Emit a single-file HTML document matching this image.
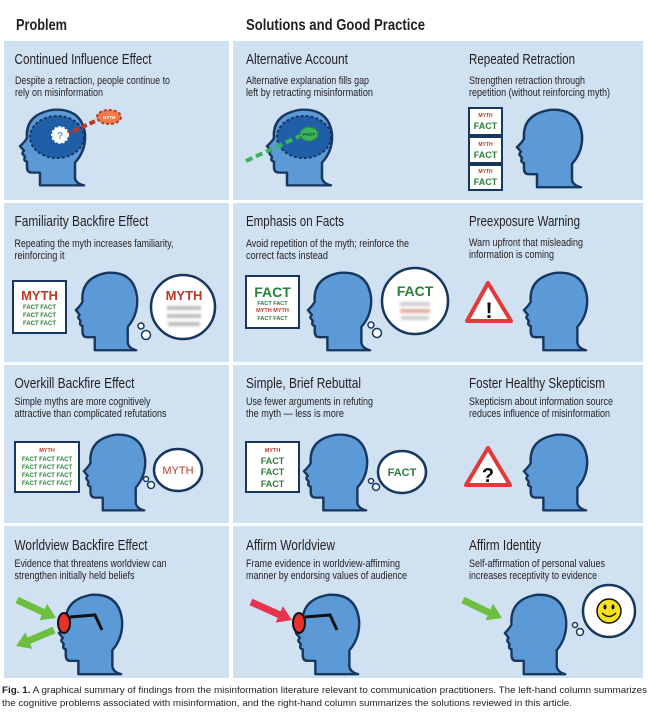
<!DOCTYPE html>
<html><head><meta charset="utf-8"><style>
html,body{margin:0;padding:0;background:#fff;}
svg{display:block;}
text{font-family:"Liberation Sans Narrow","Liberation Sans",sans-serif;}
.t{font-size:14.5px;fill:#231f20;}
.d{font-size:10.8px;fill:#231f20;}
.h{font-size:15.5px;font-weight:bold;fill:#231f20;}
.c{font-family:"Liberation Sans",sans-serif;font-size:9.3px;fill:#231f20;}
.m{fill:#b83a26;font-weight:bold;}
.f{fill:#2d7d3b;font-weight:bold;}
</style></head><body>
<svg width="648" height="722" viewBox="0 0 648 722" xmlns="http://www.w3.org/2000/svg">
<defs>
<symbol id="hd" viewBox="-2 -2 70 90" preserveAspectRatio="none">
<path d="M20 84 L20 70 L12 70 Q7 70 7 64 L7 58 Q3 57 5 53 L4 51 Q1 49 4 46 L0 41 Q5 36 7 32 Q5 6 33 1 Q62 -1 65 28 Q66 46 55 59 L55 76 Q56 82 64 84 Z" fill="#5b9ad6" stroke="#17375e" stroke-width="2.5" stroke-linejoin="round"/>
</symbol>
<filter id="bl"><feGaussianBlur stdDeviation="1.3"/></filter>
</defs>

<text class="h" x="16" y="30" textLength="51" lengthAdjust="spacingAndGlyphs">Problem</text>
<text class="h" x="246" y="30" textLength="179" lengthAdjust="spacingAndGlyphs">Solutions and Good Practice</text>

<g fill="#d0e1f2">
<rect x="4" y="41" width="225" height="159"/><rect x="233" y="41" width="410" height="159"/>
<rect x="4" y="203" width="225" height="159"/><rect x="233" y="203" width="410" height="159"/>
<rect x="4" y="365" width="225" height="158"/><rect x="233" y="365" width="410" height="158"/>
<rect x="4" y="526" width="225" height="152"/><rect x="233" y="526" width="410" height="152"/>
</g>

<!-- Row 1 text -->
<text class="t" x="14.5" y="64" textLength="137" lengthAdjust="spacingAndGlyphs">Continued Influence Effect</text>
<text class="d" x="15" y="84" textLength="155" lengthAdjust="spacingAndGlyphs">Despite a retraction, people continue to</text>
<text class="d" x="15" y="96" textLength="88" lengthAdjust="spacingAndGlyphs">rely on misinformation</text>
<text class="t" x="246" y="64" textLength="102" lengthAdjust="spacingAndGlyphs">Alternative Account</text>
<text class="d" x="246" y="84" textLength="123" lengthAdjust="spacingAndGlyphs">Alternative explanation fills gap</text>
<text class="d" x="246" y="96" textLength="127" lengthAdjust="spacingAndGlyphs">left by retracting misinformation</text>
<text class="t" x="469" y="64" textLength="106" lengthAdjust="spacingAndGlyphs">Repeated Retraction</text>
<text class="d" x="469" y="84" textLength="116" lengthAdjust="spacingAndGlyphs">Strengthen retraction through</text>
<text class="d" x="469" y="96" textLength="141" lengthAdjust="spacingAndGlyphs">repetition (without reinforcing myth)</text>

<use href="#hd" x="18" y="107" width="70" height="82"/>
<ellipse cx="57" cy="137" rx="27" ry="21" fill="#1f5fa8" stroke="#17375e" stroke-width="2" stroke-dasharray="3 2"/>
<line x1="65" y1="135" x2="102" y2="118" stroke="#b83a26" stroke-width="4" stroke-dasharray="6 3"/>
<ellipse cx="109" cy="117" rx="12" ry="7" fill="#f07a4a" stroke="#b83a26" stroke-width="2" stroke-dasharray="3 2"/>
<text x="109" y="119" font-size="4.5" text-anchor="middle" fill="#fff" font-weight="bold">MYTH</text>
<circle cx="60" cy="135" r="8" fill="#fff" stroke="#fff" stroke-width="2" stroke-dasharray="2 2"/>
<text x="60" y="139" font-size="10" text-anchor="middle" fill="#5b9ad6" font-weight="bold">?</text>

<use href="#hd" x="265" y="107" width="70" height="82"/>
<ellipse cx="304" cy="137" rx="27" ry="21" fill="#1f5fa8" stroke="#17375e" stroke-width="2" stroke-dasharray="3 2"/>
<line x1="246" y1="161" x2="302" y2="135" stroke="#3cb35a" stroke-width="4" stroke-dasharray="7 4"/>
<ellipse cx="309" cy="134" rx="9" ry="7" fill="#3cb35a" stroke="#2d7d3b" stroke-width="1.5" stroke-dasharray="2 1.5"/>
<text x="309" y="136" font-size="4.5" text-anchor="middle" fill="#17375e" font-weight="bold">FACT</text>

<g fill="#fff" stroke="#17375e" stroke-width="2">
<rect x="469" y="108" width="33" height="27"/><rect x="469" y="137" width="33" height="26"/><rect x="469" y="165" width="33" height="25"/>
</g>
<g text-anchor="middle">
<text class="m" x="485.5" y="117" font-size="5">MYTH</text><text class="f" x="485.5" y="129" font-size="9">FACT</text>
<text class="m" x="485.5" y="146" font-size="5">MYTH</text><text class="f" x="485.5" y="158" font-size="9">FACT</text>
<text class="m" x="485.5" y="173" font-size="5">MYTH</text><text class="f" x="485.5" y="185" font-size="9">FACT</text>
</g>
<use href="#hd" x="515" y="107" width="70" height="84"/>

<!-- Row 2 -->
<text class="t" x="14.5" y="226" textLength="134" lengthAdjust="spacingAndGlyphs">Familiarity Backfire Effect</text>
<text class="d" x="14.5" y="247" textLength="159" lengthAdjust="spacingAndGlyphs">Repeating the myth increases familiarity,</text>
<text class="d" x="14.5" y="259" textLength="50" lengthAdjust="spacingAndGlyphs">reinforcing it</text>
<text class="t" x="246" y="226" textLength="98" lengthAdjust="spacingAndGlyphs">Emphasis on Facts</text>
<text class="d" x="246" y="247" textLength="163" lengthAdjust="spacingAndGlyphs">Avoid repetition of the myth; reinforce the</text>
<text class="d" x="246" y="259" textLength="82" lengthAdjust="spacingAndGlyphs">correct facts instead</text>
<text class="t" x="469" y="226" textLength="111" lengthAdjust="spacingAndGlyphs">Preexposure Warning</text>
<text class="d" x="469" y="246" textLength="114" lengthAdjust="spacingAndGlyphs">Warn upfront that misleading</text>
<text class="d" x="469" y="258" textLength="85" lengthAdjust="spacingAndGlyphs">information is coming</text>

<rect x="13" y="281" width="53" height="52" fill="#fff" stroke="#17375e" stroke-width="2"/>
<g text-anchor="middle">
<text class="m" x="39.5" y="300" font-size="13">MYTH</text>
<text class="f" x="39.5" y="309" font-size="6">FACT FACT</text>
<text class="f" x="39.5" y="317" font-size="6">FACT FACT</text>
<text class="f" x="39.5" y="325" font-size="6">FACT FACT</text>
</g>
<use href="#hd" x="74" y="270" width="66" height="84"/>
<circle cx="141" cy="326" r="3" fill="#fff" stroke="#17375e" stroke-width="1.5"/>
<circle cx="146" cy="335" r="4.5" fill="#fff" stroke="#17375e" stroke-width="1.5"/>
<circle cx="183" cy="307" r="32" fill="#fff" stroke="#17375e" stroke-width="2.5"/>
<text class="m" x="184" y="300" font-size="13" text-anchor="middle">MYTH</text>
<g filter="url(#bl)" fill="#bbb"><rect x="167" y="306" width="34" height="4"/><rect x="167" y="314" width="34" height="4"/><rect x="168" y="322" width="32" height="4"/></g>

<rect x="246" y="276" width="53" height="52" fill="#fff" stroke="#17375e" stroke-width="2"/>
<g text-anchor="middle">
<text class="f" x="272.5" y="297" font-size="14">FACT</text>
<text class="f" x="272.5" y="305" font-size="5.5">FACT FACT</text>
<text class="m" x="272.5" y="312" font-size="5.5">MYTH MYTH</text>
<text class="f" x="272.5" y="320" font-size="5.5">FACT FACT</text>
</g>
<use href="#hd" x="306" y="270" width="68" height="84"/>
<circle cx="371" cy="325" r="3" fill="#fff" stroke="#17375e" stroke-width="1.5"/>
<circle cx="377" cy="333" r="4.5" fill="#fff" stroke="#17375e" stroke-width="1.5"/>
<circle cx="415" cy="301" r="33" fill="#fff" stroke="#17375e" stroke-width="2.5"/>
<text class="f" x="415" y="296" font-size="14" text-anchor="middle">FACT</text>
<g filter="url(#bl)"><rect x="400" y="302" width="30" height="4" fill="#ccc"/><rect x="400" y="309" width="30" height="4" fill="#e0a8a0"/><rect x="401" y="316" width="28" height="4" fill="#ccc"/></g>

<polygon points="488,283 467,321 511,321" fill="#fff" stroke="#e03a3a" stroke-width="4" stroke-linejoin="round"/>
<text x="489" y="318" font-size="22" font-weight="bold" text-anchor="middle" fill="#111" font-family="Liberation Sans">!</text>
<use href="#hd" x="522" y="270" width="68" height="84"/>

<!-- Row 3 -->
<text class="t" x="14.5" y="388" textLength="120" lengthAdjust="spacingAndGlyphs">Overkill Backfire Effect</text>
<text class="d" x="14.5" y="405" textLength="136" lengthAdjust="spacingAndGlyphs">Simple myths are more cognitively</text>
<text class="d" x="14.5" y="417" textLength="152" lengthAdjust="spacingAndGlyphs">attractive than complicated refutations</text>
<text class="t" x="246" y="388" textLength="115" lengthAdjust="spacingAndGlyphs">Simple, Brief Rebuttal</text>
<text class="d" x="246" y="405" textLength="127" lengthAdjust="spacingAndGlyphs">Use fewer arguments in refuting</text>
<text class="d" x="246" y="417" textLength="98" lengthAdjust="spacingAndGlyphs">the myth — less is more</text>
<text class="t" x="469" y="388" textLength="136" lengthAdjust="spacingAndGlyphs">Foster Healthy Skepticism</text>
<text class="d" x="469" y="405" textLength="144" lengthAdjust="spacingAndGlyphs">Skepticism about information source</text>
<text class="d" x="469" y="417" textLength="141" lengthAdjust="spacingAndGlyphs">reduces influence of misinformation</text>

<rect x="15" y="442" width="64" height="50" fill="#fff" stroke="#17375e" stroke-width="2"/>
<g text-anchor="middle">
<text class="m" x="47" y="452" font-size="5.5">MYTH</text>
<text class="f" x="47" y="461" font-size="6">FACT FACT FACT</text>
<text class="f" x="47" y="469" font-size="6">FACT FACT FACT</text>
<text class="f" x="47" y="477" font-size="6">FACT FACT FACT</text>
<text class="f" x="47" y="485" font-size="6">FACT FACT FACT</text>
</g>
<use href="#hd" x="82" y="432" width="66" height="82"/>
<circle cx="146" cy="479" r="2.5" fill="#fff" stroke="#17375e" stroke-width="1.5"/>
<circle cx="151" cy="485" r="3.5" fill="#fff" stroke="#17375e" stroke-width="1.5"/>
<ellipse cx="178" cy="470" rx="24" ry="21" fill="#fff" stroke="#17375e" stroke-width="2.5"/>
<text x="178" y="474" font-size="11" text-anchor="middle" fill="#b83a26">MYTH</text>

<rect x="246" y="442" width="53" height="50" fill="#fff" stroke="#17375e" stroke-width="2"/>
<g text-anchor="middle">
<text class="m" x="272.5" y="452" font-size="5.5">MYTH</text>
<text class="f" x="272.5" y="464" font-size="9">FACT</text>
<text class="f" x="272.5" y="475" font-size="9">FACT</text>
<text class="f" x="272.5" y="487" font-size="9">FACT</text>
</g>
<use href="#hd" x="302" y="432" width="68" height="82"/>
<circle cx="371" cy="481" r="2.5" fill="#fff" stroke="#17375e" stroke-width="1.5"/>
<circle cx="376" cy="487" r="3.5" fill="#fff" stroke="#17375e" stroke-width="1.5"/>
<ellipse cx="402" cy="472" rx="24" ry="21" fill="#fff" stroke="#17375e" stroke-width="2.5"/>
<text class="f" x="402" y="476" font-size="11" text-anchor="middle">FACT</text>

<polygon points="488,448 466,485 510,485" fill="#fff" stroke="#e03a3a" stroke-width="4" stroke-linejoin="round"/>
<text x="488" y="482" font-size="20" font-weight="bold" text-anchor="middle" fill="#111" font-family="Liberation Sans">?</text>
<use href="#hd" x="522" y="432" width="68" height="82"/>

<!-- Row 4 -->
<text class="t" x="14.5" y="550" textLength="133" lengthAdjust="spacingAndGlyphs">Worldview Backfire Effect</text>
<text class="d" x="14.5" y="567" textLength="152" lengthAdjust="spacingAndGlyphs">Evidence that threatens worldview can</text>
<text class="d" x="14.5" y="579" textLength="120" lengthAdjust="spacingAndGlyphs">strengthen initially held beliefs</text>
<text class="t" x="246" y="550" textLength="89" lengthAdjust="spacingAndGlyphs">Affirm Worldview</text>
<text class="d" x="246" y="567" textLength="154" lengthAdjust="spacingAndGlyphs">Frame evidence in worldview-affirming</text>
<text class="d" x="246" y="579" textLength="161" lengthAdjust="spacingAndGlyphs">manner by endorsing values of audience</text>
<text class="t" x="469" y="550" textLength="72" lengthAdjust="spacingAndGlyphs">Affirm Identity</text>
<text class="d" x="469" y="567" textLength="136" lengthAdjust="spacingAndGlyphs">Self-affirmation of personal values</text>
<text class="d" x="469" y="579" textLength="128" lengthAdjust="spacingAndGlyphs">increases receptivity to evidence</text>

<use href="#hd" x="57" y="592" width="68" height="86"/>
<line x1="17" y1="600" x2="45" y2="613" stroke="#6cbf3f" stroke-width="7"/>
<polygon points="56,618 39.5,620.3 47.1,603.9" fill="#6cbf3f"/>
<line x1="54" y1="630" x2="28" y2="641" stroke="#6cbf3f" stroke-width="7"/>
<polygon points="16,646 25.4,632.3 32.4,648.9" fill="#6cbf3f"/>
<polyline points="70,617 95,615 102,630" fill="none" stroke="#111" stroke-width="3"/>
<ellipse cx="64" cy="623" rx="6" ry="10" fill="#e8312f" stroke="#111" stroke-width="2"/>

<use href="#hd" x="294" y="592" width="68" height="86"/>
<line x1="251" y1="602" x2="280" y2="615" stroke="#e8334f" stroke-width="7"/>
<polygon points="292,620 275.6,622.6 282.8,606.2" fill="#e8334f"/>
<polyline points="305,617 330,615 337,630" fill="none" stroke="#111" stroke-width="3"/>
<ellipse cx="299" cy="623" rx="6" ry="10" fill="#e8312f" stroke="#111" stroke-width="2"/>

<use href="#hd" x="503" y="592" width="66" height="86"/>
<line x1="463" y1="600" x2="490" y2="613" stroke="#6cbf3f" stroke-width="7"/>
<polygon points="502,618 485.5,620.3 493.1,603.9" fill="#6cbf3f"/>
<circle cx="575" cy="625" r="2.5" fill="#fff" stroke="#17375e" stroke-width="1.5"/>
<circle cx="580" cy="632" r="3.5" fill="#fff" stroke="#17375e" stroke-width="1.5"/>
<circle cx="609" cy="611" r="26" fill="#fff" stroke="#17375e" stroke-width="2.5"/>
<circle cx="609" cy="611" r="12" fill="#f7e21b" stroke="#111" stroke-width="1.5"/>
<ellipse cx="605" cy="607" rx="1.5" ry="2.5" fill="#111"/><ellipse cx="613" cy="607" rx="1.5" ry="2.5" fill="#111"/>
<path d="M602 613 Q609 620 616 613" fill="none" stroke="#111" stroke-width="1.5"/>

<text class="c" x="2" y="693" textLength="645" lengthAdjust="spacingAndGlyphs"><tspan font-weight="bold">Fig. 1.</tspan> A graphical summary of findings from the misinformation literature relevant to communication practitioners. The left-hand column summarizes</text>
<text class="c" x="2" y="706" textLength="570" lengthAdjust="spacingAndGlyphs">the cognitive problems associated with misinformation, and the right-hand column summarizes the solutions reviewed in this article.</text>
</svg>
</body></html>
